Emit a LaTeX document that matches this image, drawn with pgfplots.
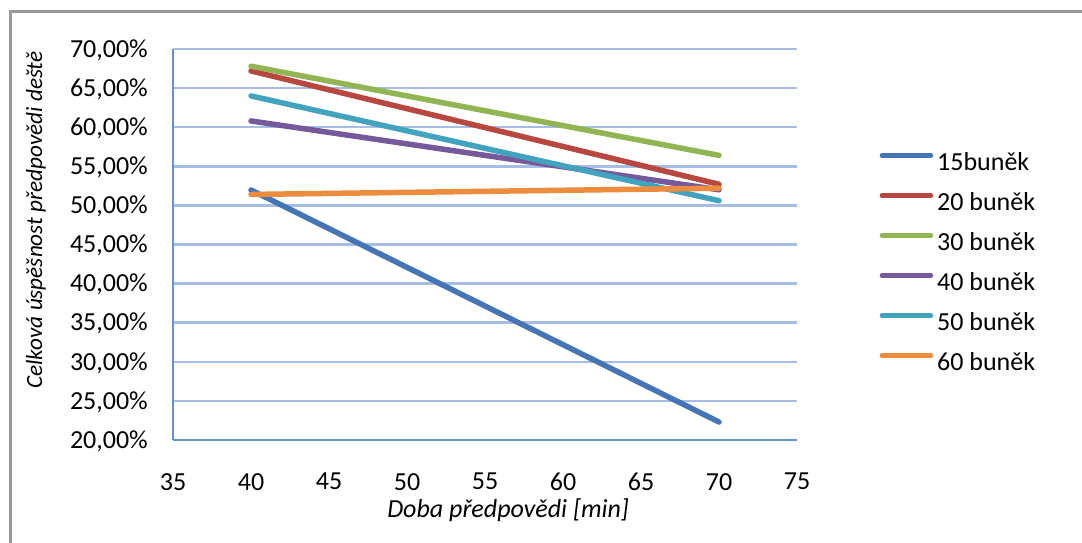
\documentclass[border=0pt]{standalone}
\usepackage{fontspec}
\setmainfont{Carlito}
\usepackage{pgfplots}
\pgfplotsset{compat=1.18}
\definecolor{cBlue}{HTML}{4575B4}
\definecolor{cRed}{HTML}{B8473F}
\definecolor{cGreen}{HTML}{92B553}
\definecolor{cPurple}{HTML}{75599B}
\definecolor{cAqua}{HTML}{42A3BE}
\definecolor{cOrange}{HTML}{EE8C3E}
\definecolor{gridc}{HTML}{A6BDE5}
\definecolor{axisc}{HTML}{6691D6}
\definecolor{framec}{HTML}{989898}
\begin{document}
\begin{tikzpicture}
\path[use as bounding box] (0bp,0bp) rectangle (1082bp,543bp);
\fill[white] (0bp,0bp) rectangle (1082bp,543bp);
\draw[framec, line width=3bp] (10bp,0bp) -- (10bp,531.5bp) -- (1082bp,531.5bp);
\begin{axis}[
  at={(173bp,103bp)}, anchor=south west,
  scale only axis, width=624bp, height=391bp,
  xmin=35, xmax=75, ymin=20, ymax=70,
  xtick={35,40,...,75}, ytick={20,25,...,70},
  xticklabels={35,40,45,50,55,60,65,70,75},
  yticklabels={{20,00\%},{25,00\%},{30,00\%},{35,00\%},{40,00\%},{45,00\%},{50,00\%},{55,00\%},{60,00\%},{65,00\%},{70,00\%}},
  major tick length=0pt,
  axis x line*=bottom, axis y line*=left,
  axis line style={-, axisc, line width=2bp},
  ymajorgrids, major grid style={gridc, line width=2.5bp},
  tick label style={font=\fontsize{26bp}{30bp}\selectfont, inner sep=0pt},
  xticklabel style={anchor=north, yshift=-33bp},
  yticklabel style={anchor=base east, xshift=-25bp, yshift=-8.2bp},
  xlabel={\textit{Doba předpovědi [min]}},
  ylabel={\textit{Celková úspěšnost předpovědi deště}},
  label style={inner sep=0pt},
  xlabel style={font=\fontsize{26bp}{30bp}\selectfont, at={(axis description cs:0.537,-0.197)}, anchor=base},
  ylabel style={font=\fontsize{23.2bp}{28bp}\selectfont, at={(axis description cs:-0.2099,0.5627)}, anchor=base},
  every axis plot/.append style={line width=5.5bp, line cap=round, line join=round},
  legend cell align=left,
  legend image code/.code={\draw[#1, line width=4.5bp] (0bp,8.2bp) -- (49bp,8.2bp);},
  legend style={at={(axis description cs:1.1322,0.7366)}, anchor=north west,
    draw=none, fill=none, inner sep=0pt, row sep=17bp, column sep=4bp,
    font=\fontsize{26bp}{30bp}\selectfont,
    nodes={inner sep=0pt, text height=18bp, text depth=5bp}},
]
\addplot[cBlue] coordinates {(40,51.97) (70,22.3)};
\addlegendentry{15buněk}
\addplot[cRed] coordinates {(40,67.2) (70,52.7)};
\addlegendentry{20 buněk}
\addplot[cGreen] coordinates {(40,67.8) (70,56.4)};
\addlegendentry{30 buněk}
\addplot[cPurple] coordinates {(40,60.8) (70,52.0)};
\addlegendentry{40 buněk}
\addplot[cAqua] coordinates {(40,64.0) (70,50.6)};
\addlegendentry{50 buněk}
\addplot[cOrange] coordinates {(40,51.4) (70,52.2)};
\addlegendentry{60 buněk}
\end{axis}
\end{tikzpicture}
\end{document}
